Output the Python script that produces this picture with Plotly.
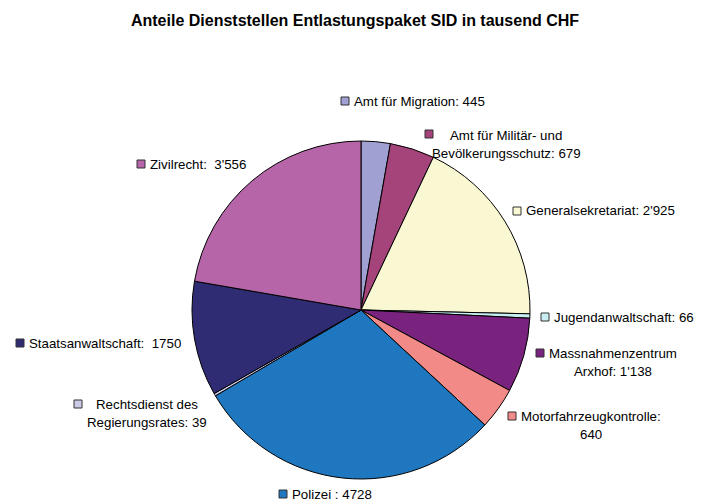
import plotly.graph_objects as go

W, H = 710, 502

labels = ["Amt für Migration", "Amt für Militär- und Bevölkerungsschutz",
          "Generalsekretariat", "Jugendanwaltschaft", "Massnahmenzentrum Arxhof",
          "Motorfahrzeugkontrolle", "Polizei", "Rechtsdienst des Regierungsrates",
          "Staatsanwaltschaft", "Zivilrecht"]
values = [445, 679, 2925, 66, 1138, 640, 4728, 39, 1750, 3556]
label_texts = ["Amt für Migration: 445",
               "Amt für Militär- und<br>Bevölkerungsschutz: 679",
               "Generalsekretariat: 2'925",
               "Jugendanwaltschaft: 66",
               "Massnahmenzentrum<br>Arxhof: 1'138",
               "Motorfahrzeugkontrolle:<br>640",
               "Polizei : 4728",
               "Rechtsdienst des<br>Regierungsrates: 39",
               "Staatsanwaltschaft:\u00a0 1750",
               "Zivilrecht:\u00a0 3'556"]
colors = ["#A0A0D2", "#A5437B", "#FAF8D2", "#C8EEF2", "#79237F",
          "#F28B87", "#1F77BF", "#CBCBE8", "#2F2C74", "#B565A8"]

# label placement in pixels: square marker (x, y)
square_pos = [(345, 101), (429, 134), (517, 211), (545, 317), (540, 353),
              (512, 416), (283, 494), (78, 404), (20, 343), (141, 164)]
# single-line labels: left edge of text; multi-line: centre of block
text_pos = [(352, 101), (506, 135), (524, 211), (552, 317), (613, 353),
            (591, 416), (290, 494), (147, 404), (27, 343), (148, 164)]
LINE_GAP = 18.5

cx, cy, r = 361, 310, 169

fig = go.Figure(go.Pie(
    labels=labels,
    values=values,
    sort=False,
    direction="clockwise",
    rotation=0,
    marker=dict(colors=colors, line=dict(color="black", width=1)),
    textinfo="none",
    hoverinfo="label+value",
    domain=dict(x=[(cx - r) / W, (cx + r) / W],
                y=[(H - cy - r) / H, (H - cy + r) / H]),
))

font = dict(family="Liberation Sans, Arial", size=13.3, color="black")

for (sx, sy), (tx, ty), txt, c in zip(square_pos, text_pos, label_texts, colors):
    fig.add_shape(type="rect", xref="paper", yref="paper",
                  x0=(sx - 4) / W, x1=(sx + 4) / W,
                  y0=(H - sy - 4) / H, y1=(H - sy + 4) / H,
                  fillcolor=c, line=dict(color="#333333", width=1))
    lines = txt.split("<br>")
    anchor = "left" if len(lines) == 1 else "center"
    for i, line in enumerate(lines):
        fig.add_annotation(x=tx / W, y=(H - ty - i * LINE_GAP) / H,
                           xref="paper", yref="paper",
                           text=line, showarrow=False,
                           xanchor=anchor, yanchor="middle", font=font)

fig.update_layout(
    width=W, height=H,
    margin=dict(l=0, r=0, t=0, b=0),
    paper_bgcolor="white",
    plot_bgcolor="white",
    showlegend=False,
    title=dict(text="<b>Anteile Dienststellen Entlastungspaket SID in tausend CHF</b>",
               x=0.5, xanchor="center", y=1 - 20 / H, yanchor="middle",
               font=dict(family="Liberation Sans, Arial", size=16, color="black")),
)

fig.write_html("out.html", config={"displayModeBar": False},
               post_script="document.body.style.margin='0';")
